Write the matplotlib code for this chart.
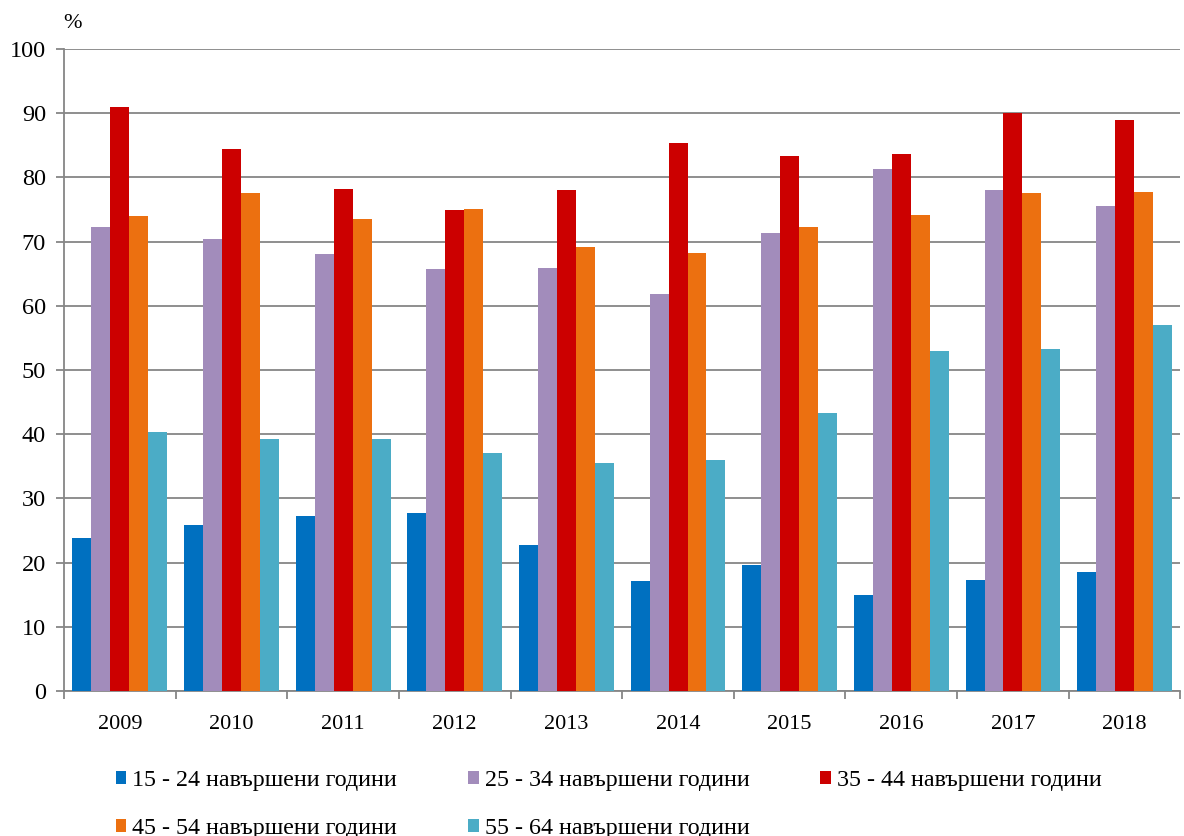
import numpy as np
import matplotlib.pyplot as plt
from matplotlib.patches import Patch

plt.rcParams['font.family'] = ['Liberation Serif', 'DejaVu Serif']

years = ['2009', '2010', '2011', '2012', '2013', '2014', '2015', '2016', '2017', '2018']

labels = ['15 - 24 навършени години', '25 - 34 навършени години', '35 - 44 навършени години',
          '45 - 54 навършени години', '55 - 64 навършени години']

age_15_24 = [23.8, 25.8, 27.3, 27.8, 22.8, 17.1, 19.7, 14.9, 17.3, 18.6]
age_25_34 = [72.2, 70.4, 68.0, 65.7, 65.9, 61.8, 71.3, 81.3, 78.0, 75.5]
age_35_44 = [90.9, 84.5, 78.2, 75.0, 78.0, 85.4, 83.4, 83.6, 90.0, 88.9]
age_45_54 = [74.0, 77.5, 73.5, 75.1, 69.1, 68.2, 72.2, 74.2, 77.5, 77.8]
age_55_64 = [40.4, 39.3, 39.3, 37.1, 35.5, 36.0, 43.3, 53.0, 53.3, 57.0]

colors = ['#0070C0', '#A28CBB', '#CC0000', '#EC7010', '#4BACC6']

series = [age_15_24, age_25_34, age_35_44, age_45_54, age_55_64]

fig = plt.figure(figsize=(11.84, 8.36), dpi=100)
ax = fig.add_axes([0.054, 0.1734, 0.943, 0.768])

x = np.arange(len(years))
w = 0.17
for i, vals in enumerate(series):
    ax.bar(x + (i - 2) * w, vals, width=w, color=colors[i], zorder=3)

ax.set_xlim(-0.5, len(years) - 0.5)
ax.set_ylim(0, 100)
ax.set_yticks(np.arange(0, 101, 10))
ax.yaxis.grid(True, color='#868686', linewidth=1.3, zorder=0)

ax.set_xticks(x)
ax.set_xticklabels(years)
ax.set_xticks(np.arange(-0.5, len(years), 1), minor=True)
ax.tick_params(axis='x', which='major', length=0, pad=17, labelsize=16)
ax.tick_params(axis='x', which='minor', length=6, width=1.3, color='#868686')
ax.tick_params(axis='y', length=6, width=1.3, color='#868686', labelsize=17.5, pad=7)

for s in ['top', 'right']:
    ax.spines[s].set_visible(False)
for s in ['left', 'bottom']:
    ax.spines[s].set_color('#868686')
    ax.spines[s].set_linewidth(1.3)

fig.text(0.053, 0.972, '%', fontsize=16, ha='left', va='center')

# row-wise legend order (matplotlib fills columns first)
order = [0, 3, 1, 4, 2]
handles = [Patch(facecolor=colors[i], edgecolor='none') for i in order]
fig.legend(handles, [labels[i] for i in order], loc='upper left', bbox_to_anchor=(0.0895, 0.09),
           ncol=3, frameon=False, fontsize=17.3, handlelength=0.45, handleheight=0.45,
           handletextpad=0.25, columnspacing=2.95, labelspacing=1.1, borderaxespad=0)

fig.savefig('out.png', dpi=100)
